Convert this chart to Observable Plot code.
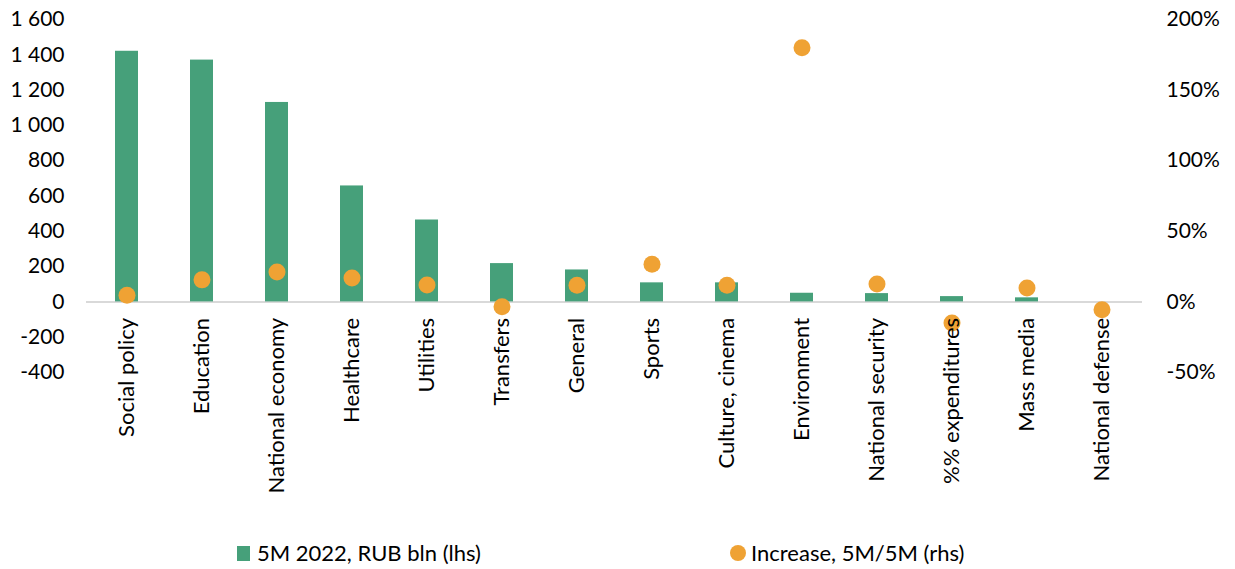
<!DOCTYPE html>
<html>
<head>
<meta charset="utf-8">
<script src="https://cdn.jsdelivr.net/npm/d3@7"></script>
<script src="https://cdn.jsdelivr.net/npm/@observablehq/plot@0.6"></script>
<style>
  html, body { margin: 0; padding: 0; background: #fff; }
  #wrap { position: relative; width: 1235px; height: 569px; font-family: Lato, sans-serif; color: #000; }
  .leg { position: absolute; font-size: 22px; line-height: 1; white-space: nowrap; }
  .sw-bar { position: absolute; width: 13px; height: 15px; background: #46a07a; }
  .sw-dot { position: absolute; width: 16px; height: 16px; border-radius: 50%; background: #efa234; }
</style>
</head>
<body>
<div id="wrap">
  <div id="chart"></div>
  <div class="sw-bar" style="left:237px; top:546px;"></div>
  <div class="leg" style="left:257px; top:542px;">5M 2022, RUB bln (lhs)</div>
  <div class="sw-dot" style="left:730px; top:545px;"></div>
  <div class="leg" style="left:751px; top:542px;">Increase, 5M/5M (rhs)</div>
</div>
<script>
const categories = ["Social policy", "Education", "National economy", "Healthcare", "Utilities", "Transfers", "General", "Sports", "Culture, cinema", "Environment", "National security", "%% expenditures", "Mass media", "National defense"];
const spending = [1420, 1370, 1130, 657, 464, 217, 181, 108, 108, 49, 47, 30, 23, 0];
const increase = [4.7, 15.6, 21.2, 17, 12, -3.5, 11.8, 26.7, 11.8, 180, 12.7, -15, 9.9, -5.5];
const leftTicks = [-400, -200, 0, 200, 400, 600, 800, 1000, 1200, 1400, 1600];
const rightTicks = [-50, 0, 50, 100, 150, 200];
const ratio = 1600 / 200; // lhs units per rhs percent

const data = categories.map((c, i) => ({cat: c, value: spending[i], inc: increase[i]}));
const locale = d3.formatLocale({decimal: ".", thousands: " ", grouping: [3], currency: ["", ""], minus: "-"});
const fmt = locale.format(",d");

const chart = Plot.plot({
  width: 1235,
  height: 520,
  marginTop: 19,
  marginBottom: 148,
  marginLeft: 86,
  marginRight: 93,
  style: {fontFamily: "Lato, sans-serif", fontSize: "21px", color: "#000", background: "#fff"},
  x: {domain: categories, paddingInner: 0.69, paddingOuter: 0.345, axis: null},
  y: {domain: [-400, 1600], axis: null},
  marks: [
    Plot.axisY({anchor: "left", ticks: leftTicks, tickFormat: fmt, tickSize: 0, tickPadding: 22, label: null}),
    Plot.axisY({anchor: "right", ticks: rightTicks.map(v => v * ratio), tickFormat: v => (v / ratio) + "%", tickSize: 0, tickPadding: 24, label: null}),
    Plot.ruleY([0], {stroke: "#d9d9d9", strokeWidth: 2}),
    Plot.barY(data, {x: "cat", y: "value", fill: "#46a07a"}),
    Plot.dot(data, {x: "cat", y: d => d.inc * ratio, r: 8.5, fill: "#efa234"}),
    Plot.text(categories, {x: d => d, y: d => 0, text: d => d, rotate: -90, textAnchor: "end", dy: 16, fontSize: 22, fill: "#000"})
  ]
});
document.getElementById("chart").appendChild(chart);
</script>
</body>
</html>
